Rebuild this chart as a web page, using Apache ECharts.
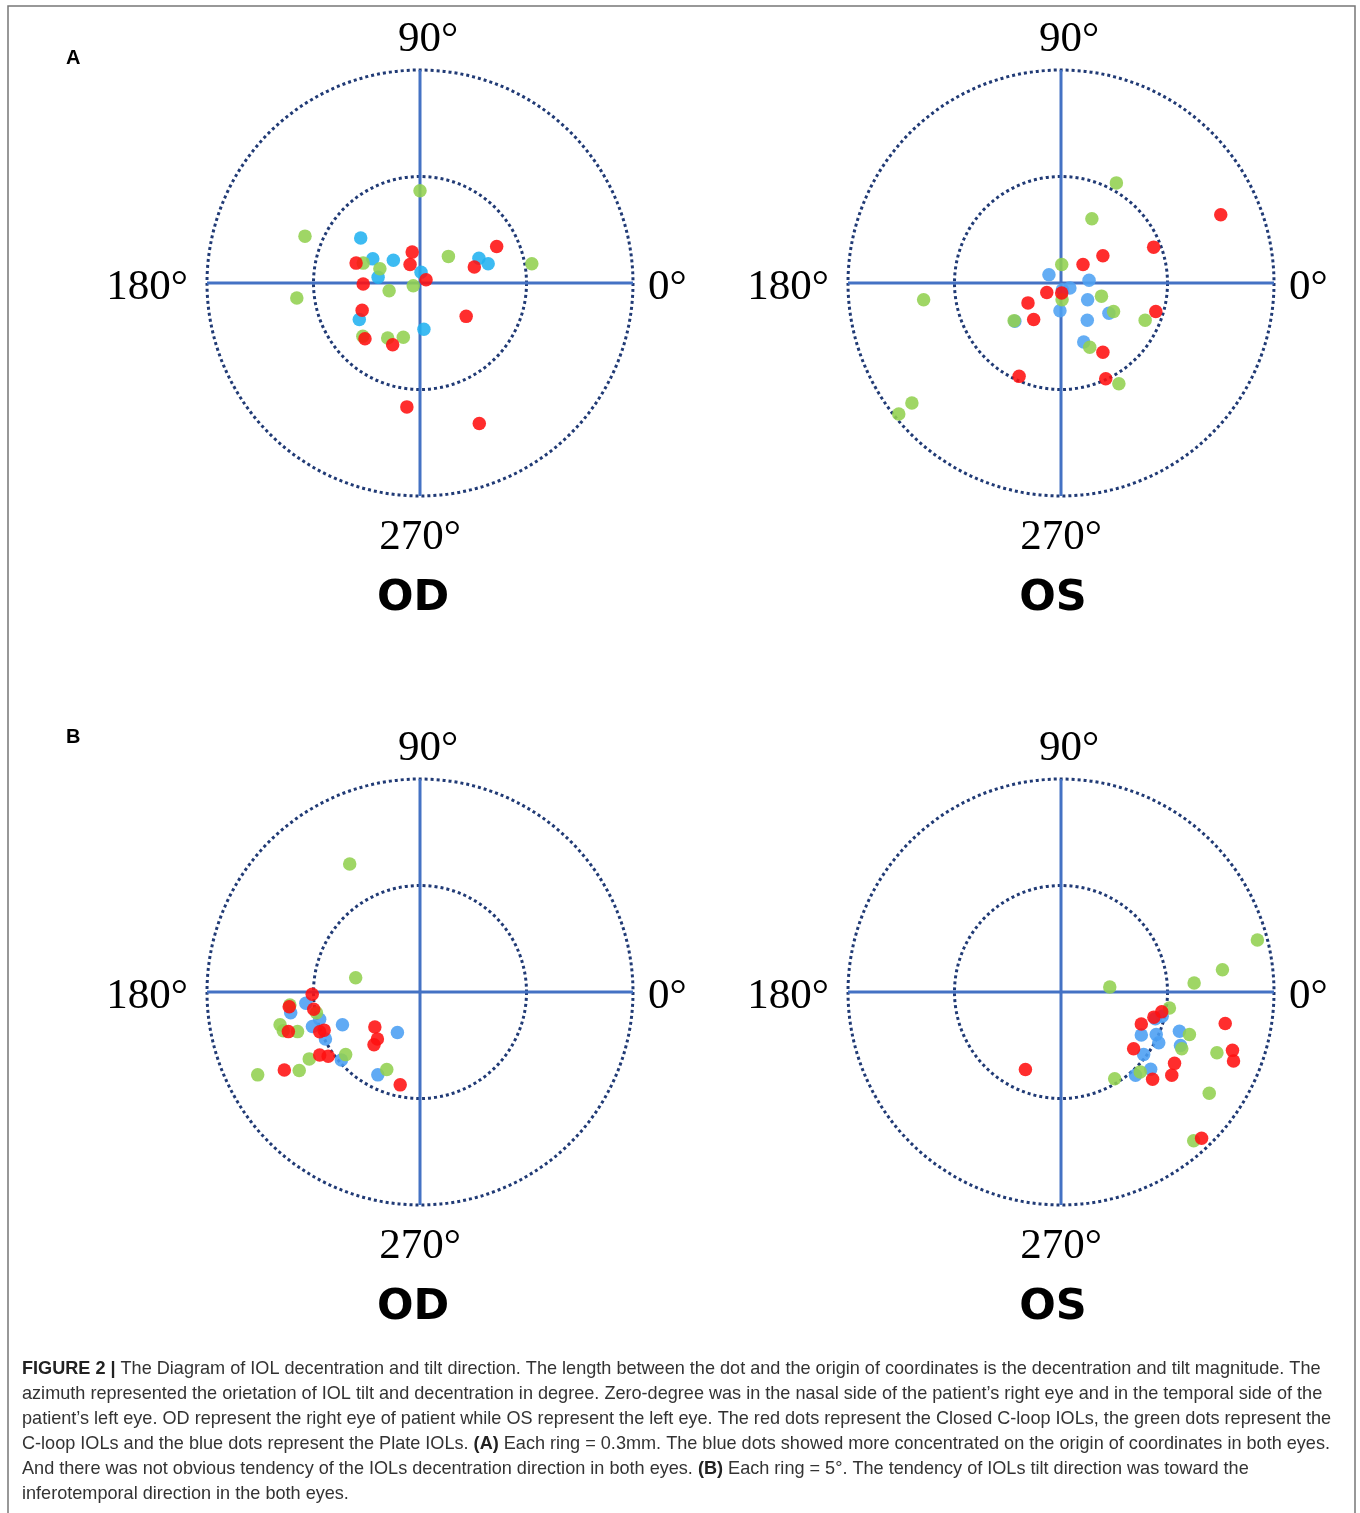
<!DOCTYPE html>
<html>
<head>
<meta charset="utf-8">
<script src="https://cdn.jsdelivr.net/npm/echarts@6/dist/echarts.min.js"></script>
<style>
html,body{margin:0;padding:0;background:#fff;}
#chart{width:1360px;height:1513px;}
</style>
</head>
<body>
<div id="chart"></div>
<script>
// Values are [horizontal, vertical] components.
// (A) decentration in mm, each ring = 0.3 mm
const decODGreen = [[0,0.26],[-0.324,0.132],[-0.347,-0.042],[-0.160,0.056],[-0.113,0.040],[-0.087,-0.022],[-0.019,-0.008],[0.080,0.075],[0.315,0.054],[-0.161,-0.150],[-0.091,-0.155],[-0.047,-0.153]];
const decODBlue = [[-0.167,0.127],[-0.133,0.068],[-0.075,0.064],[-0.118,0.016],[0.003,0.030],[0.166,0.070],[0.192,0.054],[-0.171,-0.103],[0.011,-0.130]];
const decODRed = [[-0.180,0.056],[-0.160,-0.003],[-0.022,0.087],[-0.028,0.052],[0.017,0.009],[0.153,0.045],[0.216,0.103],[0.130,-0.094],[-0.163,-0.077],[-0.155,-0.157],[-0.077,-0.174],[-0.037,-0.349],[0.167,-0.396]];

const decOSGreen = [[0.156,0.282],[0.087,0.181],[0.002,0.052],[-0.387,-0.047],[0.003,-0.047],[0.114,-0.037],[0.148,-0.080],[0.237,-0.105],[-0.132,-0.106],[0.081,-0.181],[0.163,-0.284],[-0.420,-0.338],[-0.457,-0.369]];
const decOSBlue = [[-0.034,0.023],[0.079,0.008],[0.004,-0.019],[0.025,-0.014],[0.075,-0.047],[-0.003,-0.078],[0.074,-0.105],[0.135,-0.085],[0.064,-0.166],[-0.130,-0.108]];
const decOSRed = [[0.450,0.192],[0.261,0.101],[0.118,0.077],[0.062,0.052],[-0.040,-0.027],[0.002,-0.028],[-0.093,-0.056],[-0.077,-0.103],[0.267,-0.080],[0.118,-0.195],[-0.118,-0.263],[0.126,-0.270]];

// (B) tilt in degrees, each ring = 5°
const tiltODGreen = [[-3.30,6.01],[-3.02,0.67],[-6.11,-0.61],[-6.57,-1.54],[-6.42,-1.82],[-5.75,-1.86],[-4.86,-0.97],[-5.20,-3.14],[-5.67,-3.69],[-7.62,-3.89],[-3.49,-2.94],[-1.56,-3.64]];
const tiltODBlue = [[-5.36,-0.53],[-6.07,-0.97],[-4.71,-1.28],[-5.05,-1.62],[-4.44,-2.21],[-3.64,-1.54],[-1.06,-1.90],[-3.69,-3.19],[-1.98,-3.89]];
const tiltODRed = [[-5.06,-0.11],[-6.14,-0.69],[-4.99,-0.81],[-6.18,-1.86],[-4.71,-1.87],[-4.50,-1.79],[-2.12,-1.64],[-2.00,-2.21],[-2.16,-2.48],[-4.71,-2.96],[-4.31,-3.02],[-6.37,-3.66],[-0.93,-4.36]];

const tiltOSGreen = [[9.22,2.44],[7.58,1.04],[6.25,0.42],[2.29,0.23],[5.09,-0.75],[6.03,-2.00],[5.67,-2.66],[7.32,-2.85],[3.72,-3.75],[2.52,-4.07],[6.96,-4.75],[6.23,-6.98]];
const tiltOSBlue = [[4.75,-1.14],[4.43,-1.25],[3.77,-2.02],[4.47,-2.00],[4.59,-2.38],[5.56,-1.84],[5.61,-2.51],[3.88,-2.93],[4.21,-3.63],[3.50,-3.91]];
const tiltOSRed = [[4.73,-0.93],[4.36,-1.18],[3.77,-1.50],[3.41,-2.66],[7.71,-1.48],[8.05,-2.74],[8.10,-3.24],[5.33,-3.35],[5.20,-3.91],[4.30,-4.10],[-1.67,-3.64],[6.60,-6.87]];

const angleTicks = [0, 90, 180, 270];
const angleTags = {0:'r', 90:'t', 180:'l', 270:'b'};
const ringStepA = 0.3, ringStepB = 5;
const eyeLabels = ['OD', 'OS'];
const panelLabels = ['A', 'B'];

const captionLines = [
  '{b|FIGURE 2 |} The Diagram of IOL decentration and tilt direction. The length between the dot and the origin of coordinates is the decentration and tilt magnitude. The',
  'azimuth represented the orietation of IOL tilt and decentration in degree. Zero-degree was in the nasal side of the patient\u2019s right eye and in the temporal side of the',
  'patient\u2019s left eye. OD represent the right eye of patient while OS represent the left eye. The red dots represent the Closed C-loop IOLs, the green dots represent the',
  'C-loop IOLs and the blue dots represent the Plate IOLs. {b|(A)} Each ring = 0.3mm. The blue dots showed more concentrated on the origin of coordinates in both eyes.',
  'And there was not obvious tendency of the IOLs decentration direction in both eyes. {b|(B)} Each ring = 5\u00b0. The tendency of IOLs tilt direction was toward the',
  'inferotemporal direction in the both eyes.'
];

function toPolar(list){
  return list.map(function(p){
    var r = Math.sqrt(p[0]*p[0] + p[1]*p[1]);
    var a = Math.atan2(p[1], p[0]) * 180 / Math.PI;
    if (a < 0) a += 360;
    return [r, a];
  });
}

const panels = [
  {center:[420,283], step:ringStepA, green:decODGreen, blue:decODBlue, red:decODRed, blueColor:'#22B2F0'},
  {center:[1061,283], step:ringStepA, green:decOSGreen, blue:decOSBlue, red:decOSRed, blueColor:'#4FA2F2'},
  {center:[420,992], step:ringStepB, green:tiltODGreen, blue:tiltODBlue, red:tiltODRed, blueColor:'#4A9EF2'},
  {center:[1061,992], step:ringStepB, green:tiltOSGreen, blue:tiltOSBlue, red:tiltOSRed, blueColor:'#4A9EF2'}
];

const labelFont = {fontFamily:'Liberation Serif', fontSize:43, color:'#000'};
const polar = [], angleAxis = [], radiusAxis = [], series = [];
panels.forEach(function(p, i){
  polar.push({center:p.center, radius:213});
  angleAxis.push({
    polarIndex:i, type:'value', min:0, max:360, interval:90,
    startAngle:0, clockwise:false,
    axisLine:{show:false}, axisTick:{show:false},
    axisLabel:{show:true, margin:9, color:'#000', fontFamily:'Liberation Serif', fontSize:43,
      formatter:function(v){ return angleTicks.indexOf(v) >= 0 ? '{' + angleTags[v] + '|' + v + '\u00b0}' : ''; },
      rich:{
        t:Object.assign({padding:[0,0,0,16]}, labelFont),
        l:Object.assign({padding:[10,10,0,0]}, labelFont),
        r:Object.assign({padding:[10,0,0,6]}, labelFont),
        b:Object.assign({padding:[11,0,0,0]}, labelFont)
      }},
    splitLine:{show:true, lineStyle:{color:'#4472C4', width:3, type:'solid'}}
  });
  radiusAxis.push({
    polarIndex:i, type:'value', min:0, max:p.step*2, interval:p.step,
    axisLine:{show:false}, axisTick:{show:false}, axisLabel:{show:false},
    splitLine:{show:true, lineStyle:{color:'#203A75', width:3, type:'dotted'}}
  });
  [['blue', p.blueColor], ['green', '#92D050'], ['red', '#FF1010']].forEach(function(s){
    series.push({
      type:'scatter', coordinateSystem:'polar', polarIndex:i,
      symbol:'circle', symbolSize:13.5,
      itemStyle:{color:s[1], opacity:0.88},
      data:toPolar(p[s[0]]), silent:true
    });
  });
});

const graphic = [
  {type:'rect', shape:{x:8, y:6, width:1347, height:1530}, style:{fill:'none', stroke:'#777', lineWidth:1.5}},
  {type:'text', left:66, top:48, style:{text:panelLabels[0], font:'bold 20px "Liberation Sans"', fill:'#000'}},
  {type:'text', left:66, top:727, style:{text:panelLabels[1], font:'bold 20px "Liberation Sans"', fill:'#000'}}
];
[[413,599],[1053,599],[413,1308],[1053,1308]].forEach(function(c, i){
  graphic.push({type:'text', x:c[0], y:c[1], style:{text:eyeLabels[i%2], font:'bold 43px "DejaVu Sans"', fill:'#000', textAlign:'center', textVerticalAlign:'middle'}});
});
captionLines.forEach(function(line, i){
  graphic.push({type:'text', x:22, y:1369 + i*25, style:{
    text:line, fill:'#333', fontFamily:'Liberation Sans', fontSize:18.1, textVerticalAlign:'middle',
    rich:{b:{fontWeight:'bold', fill:'#222', fontFamily:'Liberation Sans', fontSize:18.1}}
  }});
});

const chart = echarts.init(document.getElementById('chart'), null, {renderer:'canvas'});
chart.setOption({
  animation:false,
  backgroundColor:'#fff',
  polar:polar, angleAxis:angleAxis, radiusAxis:radiusAxis,
  series:series, graphic:graphic
});
</script>
</body>
</html>
